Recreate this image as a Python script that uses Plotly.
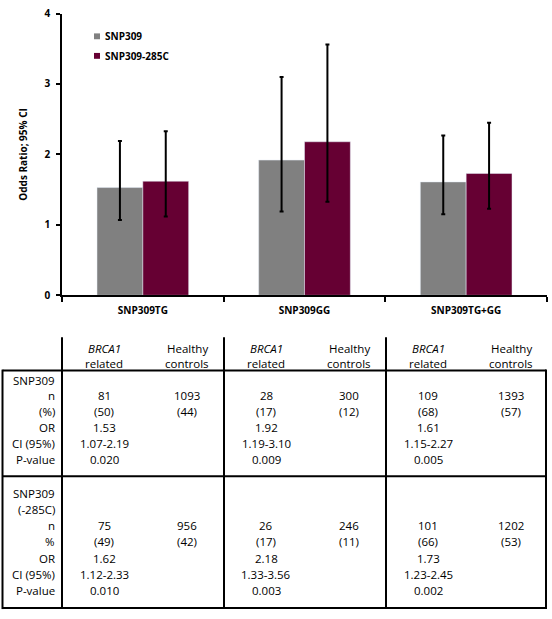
import plotly.graph_objects as go

# ---------------- data ----------------
categories = ["SNP309TG", "SNP309GG", "SNP309TG+GG"]
series_names = ["SNP309", "SNP309-285C"]
or_snp309 = [1.53, 1.92, 1.61]
ci_low_snp309 = [1.07, 1.19, 1.15]
ci_high_snp309 = [2.19, 3.10, 2.27]
or_285c = [1.62, 2.18, 1.73]
ci_low_285c = [1.12, 1.33, 1.23]
ci_high_285c = [2.33, 3.56, 2.45]

n_brca_309 = [81, 28, 109]
pct_brca_309 = [50, 17, 68]
n_hc_309 = [1093, 300, 1393]
pct_hc_309 = [44, 12, 57]
p_309 = ["0.020", "0.009", "0.005"]

n_brca_285 = [75, 26, 101]
pct_brca_285 = [49, 17, 66]
n_hc_285 = [956, 246, 1202]
pct_hc_285 = [42, 11, 53]
p_285 = ["0.010", "0.003", "0.002"]

row_labels_1 = ["SNP309", "n", "(%)", "OR", "CI (95%)", "P-value"]
row_labels_2 = ["SNP309", "(-285C)", "n", "%", "OR", "CI (95%)", "P-value"]

colors = ["#808080", "#660033"]

W, H = 552, 619
def X(px):
    return px / W
def Y(py):
    return 1 - py / H

chart_font = "Open Sans"
table_font = "Open Sans"
table_size = 11.5

fig = go.Figure()
for name, vals, lo, hi, col in [
    (series_names[0], or_snp309, ci_low_snp309, ci_high_snp309, colors[0]),
    (series_names[1], or_285c, ci_low_285c, ci_high_285c, colors[1]),
]:
    fig.add_trace(go.Bar(
        x=categories, y=vals, name=name, marker_color=col, showlegend=False,
        error_y=dict(type="data", array=[h - v for h, v in zip(hi, vals)],
                     arrayminus=[v - l for v, l in zip(vals, lo)],
                     color="black", thickness=2, width=2),
    ))

# plot area in pixels
px_left, px_right, py_top, py_bottom = 62, 547, 6.7, 295

fig.update_layout(
    width=W, height=H, margin=dict(l=0, r=0, t=0, b=0),
    paper_bgcolor="white", plot_bgcolor="white",
    barmode="group", bargap=0.433, bargroupgap=0,
    xaxis=dict(domain=[X(px_left), X(px_right)], range=[-0.5, 2.5],
               showline=True, linecolor="black", linewidth=1.5,
               ticks="outside", tickson="boundaries", ticklen=5,
               tickcolor="black", tickwidth=1.5, showgrid=False,
               ticklabelstandoff=5,
               tickfont=dict(family=chart_font, size=10, color="black", weight="bold")),
    yaxis=dict(domain=[Y(py_bottom), Y(py_top)], range=[0, 4], dtick=1,
               showline=True, linecolor="black", linewidth=1.5,
               ticks="outside", ticklen=4, tickcolor="black", tickwidth=1.5,
               showgrid=False, zeroline=False, ticklabelstandoff=4,
               ticklabeloverflow="allow",
               tickfont=dict(family=chart_font, size=10, color="black", weight="bold"),
               title=dict(text="Odds Ratio; 95% CI", standoff=15,
                          font=dict(family=chart_font, size=10, color="black", weight="bold"))),
)

shapes = []
annotations = []

# manual legend
for i, (name, col) in enumerate(zip(series_names, colors)):
    cy = 30 + 20 * i
    shapes.append(dict(type="rect", xref="paper", yref="paper",
                       x0=X(94), x1=X(100), y0=Y(cy - 3), y1=Y(cy + 3),
                       fillcolor=col, line=dict(width=0)))
    annotations.append(dict(xref="paper", yref="paper", x=X(102.5), y=Y(cy),
                            xanchor="left", yanchor="middle", showarrow=False,
                            text="<b>%s</b>" % name,
                            font=dict(family=chart_font, size=10, color="black")))

# table lines
def hline(y, x0, x1, w=2):
    shapes.append(dict(type="line", xref="paper", yref="paper",
                       x0=X(x0), x1=X(x1), y0=Y(y), y1=Y(y),
                       line=dict(color="black", width=w)))
def vline(x, y0, y1, w=2):
    shapes.append(dict(type="line", xref="paper", yref="paper",
                       x0=X(x), x1=X(x), y0=Y(y0), y1=Y(y1),
                       line=dict(color="black", width=w)))

t_left, t_right = 2.5, 546
hline(372, t_left, t_right)
hline(480, t_left, t_right)
hline(615, t_left, t_right)
vline(t_left, 371, 616)
vline(t_right, 371, 616)
group_left = [62, 224, 386]
for gx in group_left:
    vline(gx, 338, 616)

def txt(x, y, s, anchor="center", italic=False):
    if italic:
        s = "<i>%s</i>" % s
    annotations.append(dict(xref="paper", yref="paper", x=X(x), y=Y(y),
                            xanchor=anchor, yanchor="middle", showarrow=False,
                            text=s, font=dict(family=table_font, size=table_size, color="black")))

# header
for gx in group_left:
    txt(gx + 42, 349, "BRCA1", italic=True)
    txt(gx + 42, 364.5, "related")
    txt(gx + 125, 349, "Healthy")
    txt(gx + 125, 364.5, "controls")

# section 1
rows1 = [381.7, 398, 414.3, 430.6, 447, 463.3]
for lab, ry in zip(row_labels_1, rows1):
    txt(57, ry, lab, anchor="right")
for i, gx in enumerate(group_left):
    cb, ch = gx + 42, gx + 125
    txt(cb, rows1[1], str(n_brca_309[i]))
    txt(ch, rows1[1], str(n_hc_309[i]))
    txt(cb, rows1[2], "(%d)" % pct_brca_309[i])
    txt(ch, rows1[2], "(%d)" % pct_hc_309[i])
    txt(cb, rows1[3], "%.2f" % or_snp309[i])
    txt(cb, rows1[4], "%.2f-%.2f" % (ci_low_snp309[i], ci_high_snp309[i]))
    txt(cb, rows1[5], p_309[i])

# section 2
rows2 = [497.7, 514, 530.6, 547.2, 563.8, 580.3, 596.8]
for lab, ry in zip(row_labels_2, rows2):
    txt(57, ry, lab, anchor="right")
for i, gx in enumerate(group_left):
    cb, ch = gx + 42, gx + 125
    txt(cb, rows2[2], str(n_brca_285[i]))
    txt(ch, rows2[2], str(n_hc_285[i]))
    txt(cb, rows2[3], "(%d)" % pct_brca_285[i])
    txt(ch, rows2[3], "(%d)" % pct_hc_285[i])
    txt(cb, rows2[4], "%.2f" % or_285c[i])
    txt(cb, rows2[5], "%.2f-%.2f" % (ci_low_285c[i], ci_high_285c[i]))
    txt(cb, rows2[6], p_285[i])

fig.update_layout(shapes=shapes, annotations=annotations)
fig.write_html("out.html", config={"displayModeBar": False},
               post_script="document.body.style.margin='0';document.body.style.padding='0';document.body.style.overflow='hidden';")
